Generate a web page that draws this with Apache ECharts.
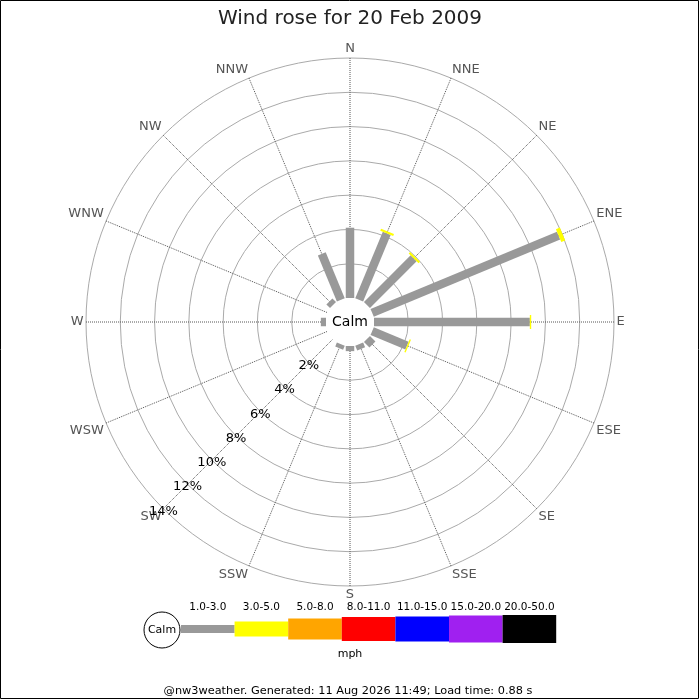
<!DOCTYPE html>
<html><head><meta charset="utf-8">
<script src="https://cdn.jsdelivr.net/npm/echarts@6/dist/echarts.min.js"></script>
<style>html,body{margin:0;padding:0;background:#fff}#c{width:700px;height:700px}</style>
</head><body><div id="c"></div>
<script>
// ---- data ----
const directions = ['N','NNE','NE','ENE','E','ESE','SE','SSE','S','SSW','SW','WSW','W','WNW','NW','NNW'];
const speed1to3 = [4.1, 4.2, 3.85, 11.77, 9.09, 2.2, 0.45, 0.3, 0.3, 0.25, 0, 0, 0.3, 0, 0.3, 2.9];
const speed3to5 = [0, 0.12, 0.12, 0.25, 0.08, 0.08, 0, 0, 0, 0, 0, 0, 0, 0, 0, 0];
const radiusTicks = [0, 2, 4, 6, 8, 10, 12, 14];
const speedRanges = ['1.0-3.0','3.0-5.0','5.0-8.0','8.0-11.0','11.0-15.0','15.0-20.0','20.0-50.0'];
const rangeColors = ['#999999','#ffff00','#ffa500','#ff0000','#0000ff','#a020f0','#000000'];
const titleText = 'Wind rose for 20 Feb 2009';
const footerText = '@nw3weather. Generated: 11 Aug 2026 11:49; Load time: 0.88 s';
const unitText = 'mph';

// ---- layout / style ----
const RADIUS_AXIS_BEARING = 225; // radius labels drawn along SW
const STEP = 360 / directions.length;
const angleValue = b => (b - RADIUS_AXIS_BEARING + 360) % 360;
const barWidths = [8.5, 14];
const legendX0 = 181, legendSegW = 53.6, legendCy = 629;
const legendHeights = [8, 15, 21, 24, 25, 27, 28];

const grayData = directions.map((d, i) => [speed1to3[i], angleValue(i * STEP), 0]);
const yellowData = directions.map((d, i) => [speed1to3[i] + speed3to5[i], angleValue(i * STEP), speed1to3[i]]);

function spoke(width, color) {
  return function (params, api) {
    const r1 = api.value(0), ang = api.value(1), r0 = api.value(2);
    if (!(r1 > r0)) return;
    const a = api.coord([r0, ang]);
    const b = api.coord([r1, ang]);
    const inner = api.coord([0, ang]);
    const outer = api.coord([radiusTicks[radiusTicks.length - 1], ang]);
    let dx = outer[0] - inner[0], dy = outer[1] - inner[1];
    const len = Math.hypot(dx, dy); dx /= len; dy /= len;
    const px = -dy * width / 2, py = dx * width / 2;
    return {
      type: 'polygon',
      shape: { points: [[a[0] + px, a[1] + py], [b[0] + px, b[1] + py], [b[0] - px, b[1] - py], [a[0] - px, a[1] - py]] },
      style: { fill: color }
    };
  };
}

const graphics = [
  { type: 'rect', shape: { x: 0.5, y: 0.5, width: 698, height: 698 }, style: { fill: null, stroke: '#000', lineWidth: 1 }, silent: true },
  { type: 'circle', shape: { cx: legendX0 - 19, cy: legendCy + 1, r: 18 }, style: { fill: '#fff', stroke: '#000', lineWidth: 1 } },
  { type: 'text', x: legendX0 - 19, y: legendCy + 1, style: { text: 'Calm', fontSize: 11, fill: '#000', align: 'center', verticalAlign: 'middle', fontFamily: 'DejaVu Sans' } },
  { type: 'text', x: 350, y: 654, style: { text: unitText, fontSize: 11, fill: '#000', align: 'center', verticalAlign: 'middle', fontFamily: 'DejaVu Sans' } },
  { type: 'text', x: 348, y: 691, style: { text: footerText, fontSize: 11.3, fill: '#000', align: 'center', verticalAlign: 'middle', fontFamily: 'DejaVu Sans' } }
];
speedRanges.forEach((r, i) => {
  const h = legendHeights[i];
  graphics.push({ type: 'rect', shape: { x: legendX0 + i * legendSegW, y: legendCy - h / 2, width: legendSegW, height: h }, style: { fill: rangeColors[i] } });
  graphics.push({ type: 'text', x: legendX0 + (i + 0.5) * legendSegW, y: 607, style: { text: r, fontSize: 10.5, fill: '#000', align: 'center', verticalAlign: 'middle', fontFamily: 'DejaVu Sans' } });
});

const chart = echarts.init(document.getElementById('c'), null, { renderer: 'canvas' });
chart.setOption({
  backgroundColor: '#fff',
  animation: false,
  textStyle: { fontFamily: 'DejaVu Sans' },
  title: { text: titleText, left: 'center', top: 4, textStyle: { fontSize: 20, fontWeight: 'normal', color: '#222', fontFamily: 'DejaVu Sans' } },
  polar: { center: [350, 322], radius: [24, 264] },
  angleAxis: {
    type: 'value', min: 0, max: 360, interval: STEP, startAngle: RADIUS_AXIS_BEARING, clockwise: true,
    axisLine: { show: false }, axisTick: { show: false },
    axisLabel: {
      margin: 2.5, color: '#555', fontSize: 13,
      formatter: v => v >= 360 ? '' : directions[Math.round(((v + RADIUS_AXIS_BEARING) % 360) / STEP) % directions.length]
    },
    splitLine: { show: true, lineStyle: { color: '#555', type: 'dotted', width: 1 } }
  },
  radiusAxis: {
    type: 'value', min: radiusTicks[0], max: radiusTicks[radiusTicks.length - 1], interval: radiusTicks[1] - radiusTicks[0],
    axisLine: { show: false }, axisTick: { show: false },
    axisLabel: {
      margin: 0, color: '#000', fontSize: 13, align: 'center', verticalAlign: 'middle',
      formatter: v => v === 0 ? '' : '{p|' + v + '%}',
      rich: { p: { fontSize: 13, color: '#000', padding: [5, 0, 0, 0] } }
    },
    splitLine: { show: true, lineStyle: { color: ['#ffffff', '#aaaaaa', '#aaaaaa', '#aaaaaa', '#aaaaaa', '#aaaaaa', '#aaaaaa', '#aaaaaa'], width: 1 } }
  },
  graphic: graphics,
  series: [
    { name: speedRanges[0], type: 'custom', coordinateSystem: 'polar', renderItem: spoke(barWidths[0], rangeColors[0]), data: grayData, encode: { radius: 0, angle: 1 }, z: 3 },
    { name: speedRanges[1], type: 'custom', coordinateSystem: 'polar', renderItem: spoke(barWidths[1], rangeColors[1]), data: yellowData, encode: { radius: 0, angle: 1 }, z: 4 },
    {
      name: 'Calm', type: 'custom', coordinateSystem: 'polar', z: 5, data: [[0, 0]], encode: { radius: 0, angle: 1 },
      renderItem: function (params, api) {
        const cs = params.coordSys;
        const p = api.coord([0, 0]);
        const r = Math.hypot(p[0] - cs.cx, p[1] - cs.cy);
        return {
          type: 'group', children: [
            { type: 'circle', shape: { cx: cs.cx, cy: cs.cy, r: r - 0.5 }, style: { fill: '#fff', stroke: null } },
            { type: 'text', x: cs.cx, y: cs.cy, style: { text: 'Calm', fontSize: 14, fill: '#000', align: 'center', verticalAlign: 'middle', fontFamily: 'DejaVu Sans' } }
          ]
        };
      }
    }
  ]
});
</script></body></html>
